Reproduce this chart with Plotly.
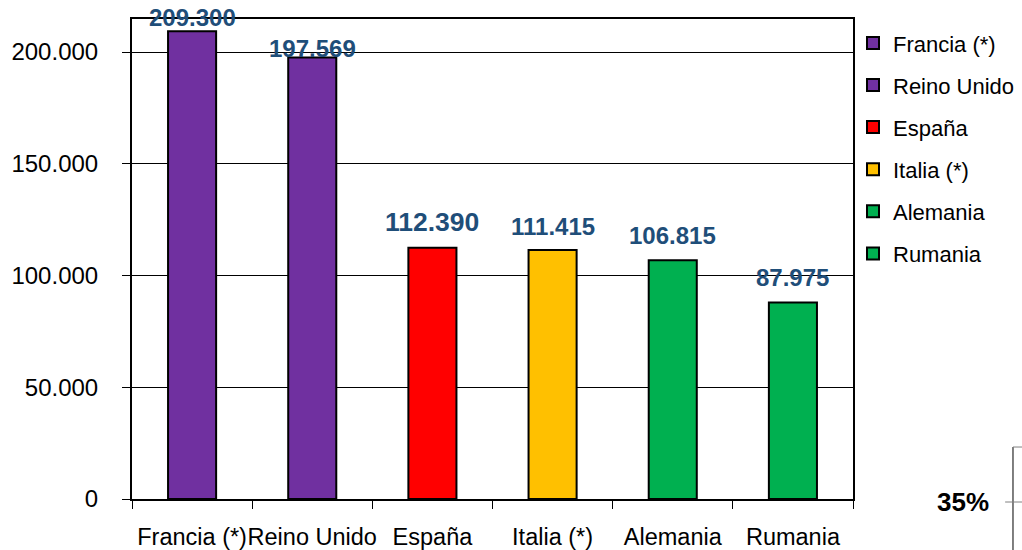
import plotly.graph_objects as go

countries = ["Francia (*)", "Reino Unido", "España", "Italia (*)", "Alemania", "Rumania"]
values = [209300, 197569, 112390, 111415, 106815, 87975]
colors = ["#7030A0", "#7030A0", "#FF0000", "#FFC000", "#00B050", "#00B050"]
label_shift = [14, 9, 26, 24, 25, 25]
label_size = [24, 24, 26.5, 24, 24, 24]
y_ticks = [0, 50000, 100000, 150000, 200000]

def fmt(v):
    return f"{v:,}".replace(",", ".")

fig = go.Figure()
for i, (c, v, col) in enumerate(zip(countries, values, colors)):
    fig.add_trace(go.Bar(
        x=[c], y=[v], name=c, width=0.4,
        marker=dict(color=col, line=dict(color="black", width=2)),
        legendgroup=f"g{i}", hoverinfo="skip",
    ))
    fig.add_annotation(
        x=c, y=v, text=f"<b>{fmt(v)}</b>", showarrow=False,
        yanchor="middle", yshift=label_shift[i],
        font=dict(family="Liberation Sans, Arial", size=label_size[i], color="#1F4E79"),
    )

fig.update_layout(
    width=1022, height=550,
    margin=dict(l=132, r=169, t=19, b=51, autoexpand=False),
    plot_bgcolor="white", paper_bgcolor="white",
    barmode="overlay",
    font=dict(family="Liberation Sans, Arial", color="black"),
    showlegend=True,
    legend=dict(
        x=1.0, y=0.9935, xanchor="left", yanchor="top",
        font=dict(size=22), traceorder="grouped", tracegroupgap=10.5,
        itemwidth=30, bgcolor="rgba(0,0,0,0)",
    ),
)
fig.update_xaxes(
    categoryorder="array", categoryarray=countries,
    showline=True, linecolor="black", linewidth=2, mirror=True,
    ticks="outside", tickson="boundaries", ticklen=8, tickcolor="black", tickwidth=1,
    tickfont=dict(size=23.5), tickangle=0, ticklabelstandoff=16, automargin=False,
    showgrid=False,
)
fig.update_yaxes(
    range=[0, 214800], tickvals=y_ticks, ticktext=[fmt(v) for v in y_ticks],
    showline=True, linecolor="black", linewidth=2, mirror=True,
    ticks="outside", ticklen=8, tickcolor="black", tickwidth=1,
    tickfont=dict(size=24), ticklabelstandoff=19, automargin=False,
    showgrid=True, gridcolor="black", gridwidth=1, zeroline=False,
)

# fragment of adjacent chart at bottom-right
fig.add_shape(type="line", xref="paper", yref="paper", x0=1.2219, x1=1.2219, y0=0.1083, y1=-0.11,
              line=dict(color="black", width=1))
fig.add_shape(type="line", xref="paper", yref="paper", x0=1.2219, x1=1.24, y0=0.1083, y1=0.1083,
              line=dict(color="gray", width=1))
fig.add_shape(type="line", xref="paper", yref="paper", x0=1.211, x1=1.24, y0=-0.00625, y1=-0.00625,
              line=dict(color="gray", width=1))
fig.add_annotation(xref="paper", yref="paper", x=1.1526, y=-0.00625, text="<b>35%</b>",
                   xanchor="center", yanchor="middle",
                   showarrow=False, font=dict(size=26, color="black"))

fig.write_html("out.html", config={"displayModeBar": False},
               post_script="document.body.style.margin='0';")
